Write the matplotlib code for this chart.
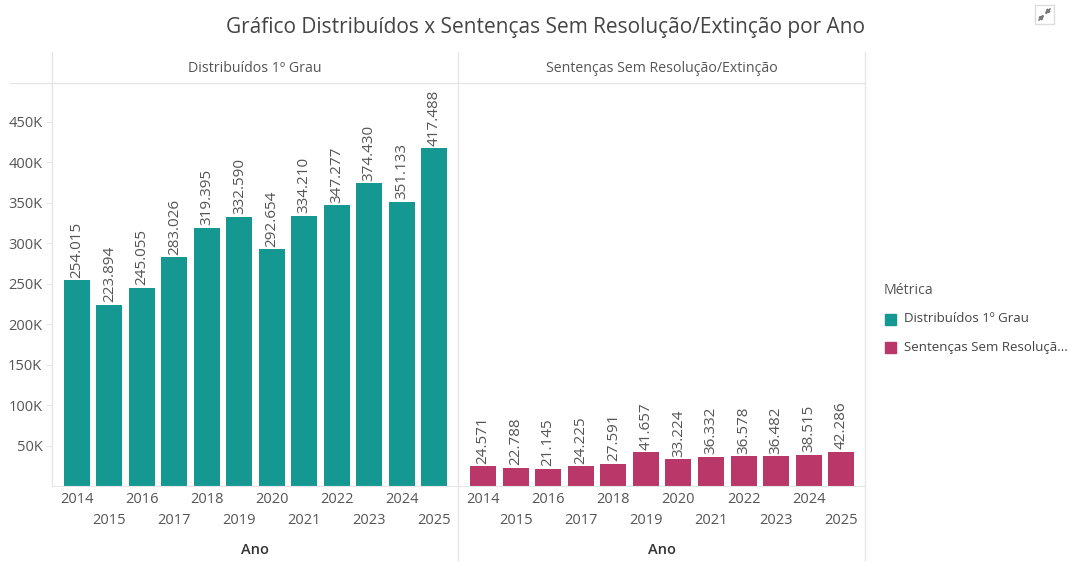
import matplotlib.pyplot as plt
from matplotlib.lines import Line2D
from matplotlib.patches import Rectangle

anos = [2014, 2015, 2016, 2017, 2018, 2019, 2020, 2021, 2022, 2023, 2024, 2025]
distribuidos = [254015, 223894, 245055, 283026, 319395, 332590, 292654, 334210,
                347277, 374430, 351133, 417488]
sentencas = [24571, 22788, 21145, 24225, 27591, 41657, 33224, 36332,
             36578, 36482, 38515, 42286]
paineis = ["Distribuídos 1º Grau", "Sentenças Sem Resolução/Extinção"]
legenda = ["Distribuídos 1º Grau", "Sentenças Sem Resoluçã..."]
cores = ["#169892", "#b93769"]
yticks = [50000, 100000, 150000, 200000, 250000, 300000, 350000, 400000, 450000]

plt.rcParams["font.family"] = ["Open Sans", "DejaVu Sans"]
cinza = "#555555"
linha = "#e6e6e6"

fig = plt.figure(figsize=(10.67, 5.63), dpi=100)
W, H = 1067, 563


def fx(px):
    return px / W


def fy(py):
    return 1 - py / H


x0, xm, x1 = 52, 458, 865
ytop, ybase = 83, 486

ax1 = fig.add_axes([fx(x0), fy(ybase), fx(xm - x0), (ybase - ytop) / H])
ax2 = fig.add_axes([fx(xm), fy(ybase), fx(x1 - xm), (ybase - ytop) / H], sharey=ax1)

pos = list(range(len(anos)))
rotulos_x = [str(a) if i % 2 == 0 else "\n" + str(a) for i, a in enumerate(anos)]

for ax, valores, cor, nome in [(ax1, distribuidos, cores[0], paineis[0]),
                               (ax2, sentencas, cores[1], paineis[1])]:
    barras = ax.bar(pos, valores, width=0.8, color=cor)
    for b, v in zip(barras, valores):
        ax.text(b.get_x() + b.get_width() / 2, v + 3000,
                f"{v:,}".replace(",", "."), rotation=90, ha="center", va="bottom",
                fontsize=11, color=cinza)
    ax.set_xlim(-0.77, len(anos) - 0.27)
    ax.set_ylim(0, 498000)
    ax.set_xticks(pos)
    ax.set_xticklabels(rotulos_x, fontsize=10.5, color=cinza, linespacing=1.6)
    ax.tick_params(axis="x", length=0, pad=4)
    for s in ["top", "right", "left"]:
        ax.spines[s].set_visible(False)
    ax.spines["bottom"].set_color(linha)
    ax.set_xlabel("Ano", fontsize=10.5, color="#333333", fontweight="semibold", labelpad=11)
    ax.set_facecolor("none")
    ax.text(0.5, 1 + 15 / (ybase - ytop), nome, transform=ax.transAxes,
            ha="center", va="center", fontsize=10.2, color=cinza)

ax1.set_yticks(yticks)
ax1.set_yticklabels([f"{t // 1000}K" for t in yticks], fontsize=10.5, color=cinza)
ax1.tick_params(axis="y", length=4, color=linha, pad=3)
ax2.tick_params(axis="y", left=False, labelleft=False)

# separadores dos painéis
fig.add_artist(Line2D([fx(10), fx(x1)], [fy(ytop), fy(ytop)], color=linha, lw=1))
fig.add_artist(Line2D([fx(x0), fx(x0)], [fy(52), fy(ybase)], color=linha, lw=1))
fig.add_artist(Line2D([fx(xm), fx(xm)], [fy(52), fy(560)], color=linha, lw=1))
fig.add_artist(Line2D([fx(x1), fx(x1)], [fy(52), fy(560)], color=linha, lw=1))

fig.text(fx(546), fy(28), "Gráfico Distribuídos x Sentenças Sem Resolução/Extinção por Ano",
         ha="center", va="center", fontsize=15, color="#444444")

# legenda
fig.text(fx(884), fy(290), "Métrica", ha="left", va="center", fontsize=10.2, color=cinza)
for i, (nome, cor) in enumerate(zip(legenda, cores)):
    yc = 319 + i * 28
    fig.add_artist(Rectangle((fx(885), fy(yc + 6)), fx(11), 11 / H, color=cor,
                             transform=fig.transFigure))
    fig.text(fx(904), fy(yc), nome, ha="left", va="center", fontsize=9.5, color="#444444")

# ícone de foco no canto (duas setas para dentro)
fig.add_artist(Rectangle((fx(1035), fy(24)), fx(19), 19 / H, fill=False,
                         edgecolor="#dddddd", lw=1, transform=fig.transFigure))
for (xa, ya), (xb, yb) in [((1039, 20), (1044, 15)), ((1050, 9), (1045, 14))]:
    fig.add_artist(plt.annotate("", xy=(fx(xb), fy(yb)), xytext=(fx(xa), fy(ya)),
                                xycoords="figure fraction", textcoords="figure fraction",
                                arrowprops=dict(arrowstyle="-|>", color="#777777", lw=1,
                                                mutation_scale=6, shrinkA=0, shrinkB=0)))

fig.savefig("out.png", dpi=100, facecolor="white")
